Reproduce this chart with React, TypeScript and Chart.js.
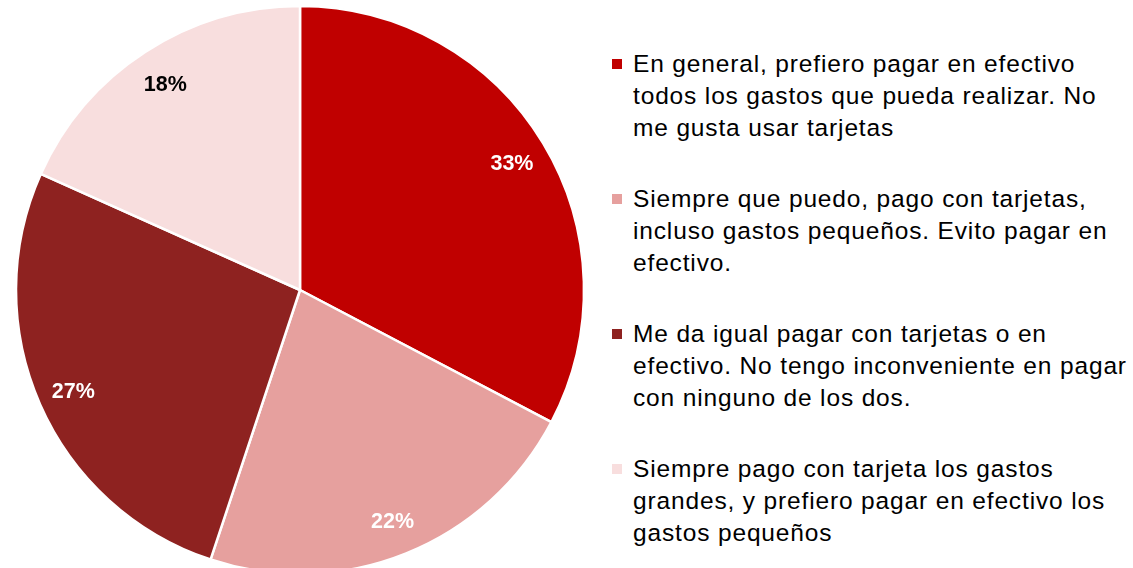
import React, { useEffect, useRef } from "react";
import { Chart, registerables } from "chart.js";

Chart.register(...registerables);

const categories = [
  "En general, prefiero pagar en efectivo\ntodos los gastos que pueda realizar. No\nme gusta usar tarjetas",
  "Siempre que puedo, pago con tarjetas,\nincluso gastos pequeños. Evito pagar en\nefectivo.",
  "Me da igual pagar con tarjetas o en\nefectivo. No tengo inconveniente en pagar\ncon ninguno de los dos.",
  "Siempre pago con tarjeta los gastos\ngrandes, y prefiero pagar en efectivo los\ngastos pequeños",
];
const values = [32.7, 22.4, 26.6, 18.3];
const colors = ["#C00000", "#E6A09E", "#8E2220", "#F8DEDE"];
const labelColors = ["#FFFFFF", "#FFFFFF", "#FFFFFF", "#000000"];

const FONT = "'Liberation Sans', Arial, sans-serif";

const pieLabels = {
  id: "pieLabels",
  afterDatasetsDraw(chart: any) {
    const ctx = chart.ctx;
    const meta = chart.getDatasetMeta(0);
    ctx.save();
    ctx.font = `bold 21.5px ${FONT}`;
    ctx.textAlign = "center";
    ctx.textBaseline = "alphabetic";
    meta.data.forEach((arc: any, i: number) => {
      const p = arc.getProps(["startAngle", "endAngle", "outerRadius", "x", "y"], true);
      const mid = (p.startAngle + p.endAngle) / 2;
      const r = p.outerRadius * 0.872;
      ctx.fillStyle = labelColors[i];
      ctx.fillText(
        Math.round(values[i]) + "%",
        p.x + Math.cos(mid) * r,
        p.y + Math.sin(mid) * r + 8.5
      );
    });
    ctx.restore();
  },
};

export default function App() {
  const ref = useRef<HTMLCanvasElement>(null);
  useEffect(() => {
    if (!ref.current) return;
    const chart = new Chart(ref.current, {
      type: "pie",
      data: {
        labels: categories,
        datasets: [
          {
            data: values,
            backgroundColor: colors,
            borderColor: "#FFFFFF",
            borderWidth: 2.5,
            radius: 284,
          } as any,
        ],
      },
      options: {
        responsive: false,
        animation: false,
        maintainAspectRatio: false,
        layout: { padding: 0 },
        plugins: {
          legend: { display: false },
          tooltip: { enabled: false },
        },
      },
      plugins: [pieLabels],
    });
    return () => chart.destroy();
  }, []);

  return (
    <div
      style={{
        position: "fixed",
        left: 0,
        top: 0,
        width: 1133,
        height: 568,
        overflow: "hidden",
        background: "#FFFFFF",
      }}
    >
      <canvas
        ref={ref}
        width={600}
        height={580}
        style={{ position: "absolute", left: 0, top: 0, width: 600, height: 580 }}
      />
      {categories.map((c, i) => (
        <div
          key={i}
          style={{
            position: "absolute",
            left: 612,
            top: 48 + i * 135,
            width: 521,
          }}
        >
          <div
            style={{
              position: "absolute",
              left: 0,
              top: 11,
              width: 10,
              height: 10,
              background: colors[i],
            }}
          />
          <div
            style={{
              position: "absolute",
              left: 21,
              top: 0,
              whiteSpace: "pre",
              font: `24.5px/32px ${FONT}`,
              letterSpacing: "0.85px",
              color: "#000000",
            }}
          >
            {c}
          </div>
        </div>
      ))}
    </div>
  );
}
